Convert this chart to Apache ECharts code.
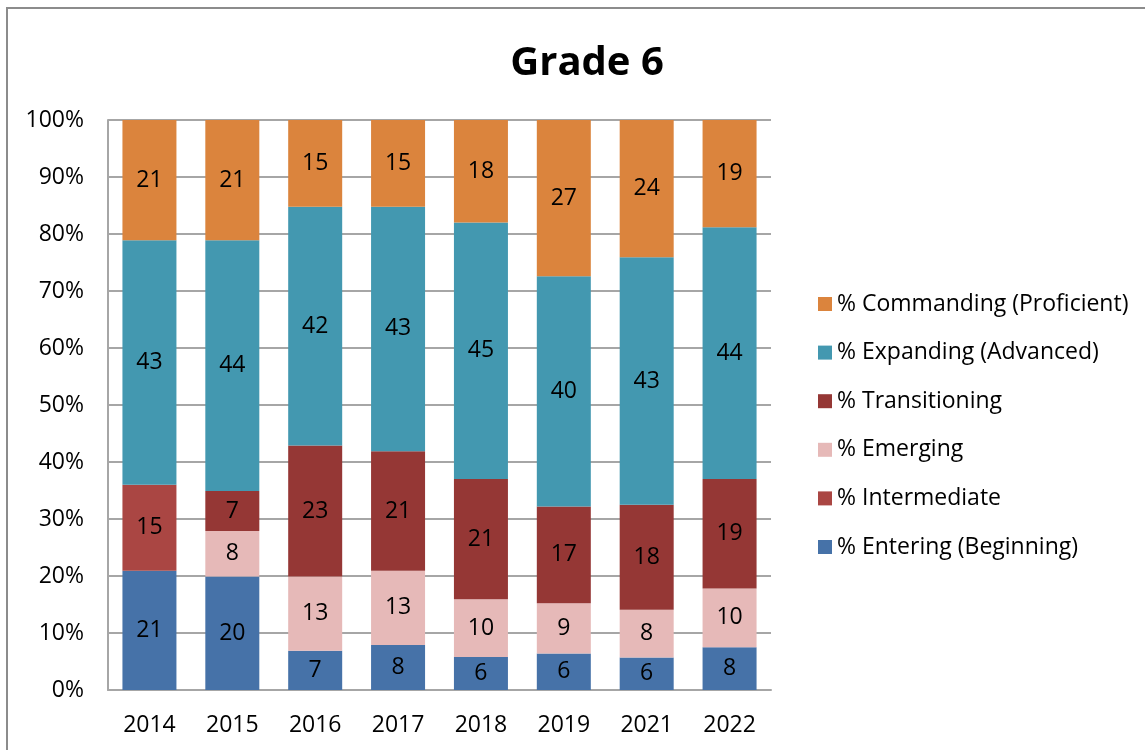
<!DOCTYPE html>
<html>
<head>
<meta charset="utf-8">
<title>Grade 6</title>
<script src="https://cdn.jsdelivr.net/npm/echarts@6/dist/echarts.min.js"></script>
<style>
  html, body { margin: 0; padding: 0; background: #ffffff; }
  #chart { width: 1145px; height: 750px; }
</style>
</head>
<body>
<div id="chart"></div>
<script>
// School years on the category axis
const years = ['2014', '2015', '2016', '2017', '2018', '2019', '2021', '2022'];

// Share of students (%) at each proficiency level, per year
const entering      = [20.9, 19.9, 6.9, 7.9, 5.8, 6.4, 5.7, 7.5];
const intermediate  = [15.1, null, null, null, null, null, null, null];
const emerging      = [null, 8.0, 13.0, 13.0, 10.1, 8.8, 8.4, 10.3];
const transitioning = [null, 7.0, 23.0, 21.0, 21.1, 17.0, 18.4, 19.2];
const expanding     = [42.9, 44.0, 41.9, 42.9, 45.0, 40.4, 43.4, 44.2];
const commanding    = [21.1, 21.1, 15.2, 15.2, 18.0, 27.4, 24.1, 18.8];

// Level names, bottom of the stack first
const levelNames = [
  '% Entering (Beginning)',
  '% Intermediate',
  '% Emerging',
  '% Transitioning',
  '% Expanding (Advanced)',
  '% Commanding (Proficient)'
];
const levelValues = [entering, intermediate, emerging, transitioning, expanding, commanding];
const levelColors = ['#4672A8', '#AA4643', '#E6B9B8', '#953735', '#4398B0', '#DB843D'];

const FONT = 'Open Sans';
const GRID_COLOR = '#a6a6a6';

const series = levelNames.map((name, i) => ({
  name: name,
  type: 'bar',
  stack: 'levels',
  barWidth: 54,
  data: levelValues[i],
  itemStyle: { color: levelColors[i] },
  label: {
    show: true,
    position: 'inside',
    color: '#000000',
    fontFamily: FONT,
    fontSize: 23,
    formatter: p => (p.value == null ? '' : String(Math.round(p.value)))
  },
  emphasis: { disabled: true }
}));

const chart = echarts.init(document.getElementById('chart'), null, { renderer: 'canvas' });
chart.setOption({
  backgroundColor: '#ffffff',
  animation: false,
  title: {
    text: 'Grade 6',
    left: 582,
    top: 39,
    textAlign: 'center',
    textStyle: { fontFamily: FONT, fontWeight: 'bold', fontSize: 40, color: '#000000' }
  },
  legend: {
    orient: 'vertical',
    left: 813,
    top: 287,
    icon: 'rect',
    itemWidth: 14,
    itemHeight: 14,
    itemGap: 24.6,
    data: levelNames.slice().reverse(),
    selectedMode: false,
    textStyle: { fontFamily: FONT, fontSize: 23, color: '#000000', lineHeight: 24 }
  },
  grid: { left: 108, right: 374, top: 120, bottom: 60 },
  xAxis: {
    type: 'category',
    data: years,
    axisLine: { show: true, lineStyle: { color: GRID_COLOR, width: 2 } },
    axisTick: { show: false },
    axisLabel: { fontFamily: FONT, fontSize: 23, color: '#000000', margin: 24 }
  },
  yAxis: {
    type: 'value',
    min: 0,
    max: 100,
    interval: 10,
    axisLine: { show: true, lineStyle: { color: GRID_COLOR, width: 2 } },
    axisTick: { show: false },
    axisLabel: { fontFamily: FONT, fontSize: 23, color: '#000000', margin: 24, formatter: '{value}%' },
    splitLine: { show: true, lineStyle: { color: GRID_COLOR, width: 2 } }
  },
  graphic: [{
    type: 'rect',
    shape: { x: 7, y: 8, width: 1300, height: 900 },
    style: { fill: null, stroke: '#8c8c8c', lineWidth: 2 },
    silent: true,
    z: 100
  }],
  series: series
});
</script>
</body>
</html>
